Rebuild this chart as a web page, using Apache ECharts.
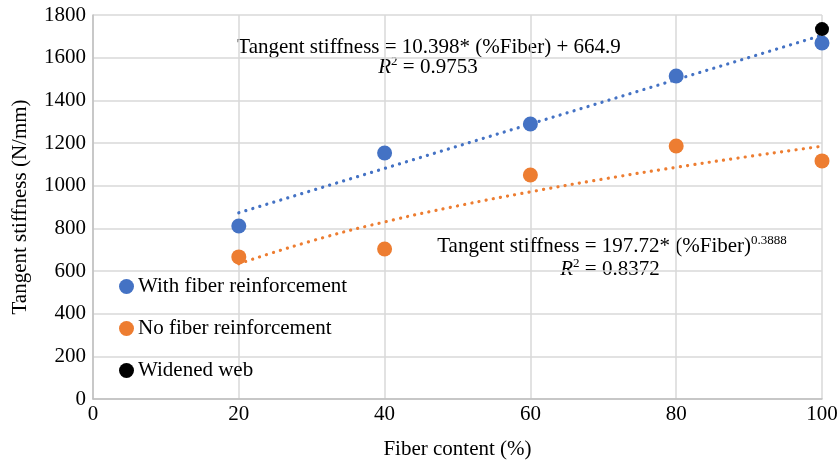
<!DOCTYPE html>
<html>
<head>
<meta charset="utf-8">
<script src="https://cdn.jsdelivr.net/npm/echarts@6/dist/echarts.min.js"></script>
<style>
  html, body { margin: 0; padding: 0; background: #fff; }
  #chart { width: 837px; height: 461px; }
</style>
</head>
<body>
<div id="chart"></div>
<script>
// Data
const fiberPct = [20, 40, 60, 80, 100];
const withFiber = [811, 1153, 1289, 1514, 1669];
const noFiber = [666, 703, 1050, 1186, 1116];
const widenedWeb = [[100, 1734]];
// trend lines as drawn in the picture
const linTrendX = [20, 100];
const linTrendY = [873, 1705];
const powTrendX = [20, 30, 40, 50, 60, 70, 80, 90, 100];
const powTrendY = [634, 741, 830, 905, 971, 1031, 1086, 1137, 1185];

const FONT = '"Liberation Serif", "Times New Roman", serif';
const FS = 21;
const BLUE = '#4472c4';
const ORANGE = '#ed7d31';

const pairs = (xs, ys) => xs.map((x, i) => [x, ys[i]]);

const chart = echarts.init(document.getElementById('chart'));

const dotted = color => ({ color: color, width: 3.2, type: [0.1, 7.2], cap: 'round' });

// R² line and superscripted equation use rich text
const richParts = {
    i: { fontFamily: FONT, fontSize: FS, fontStyle: 'italic', fill: '#000', lineHeight: 24 },
    s: { fontFamily: FONT, fontSize: 13, fill: '#000', verticalAlign: 'top', lineHeight: 24 },
    n: { fontFamily: FONT, fontSize: FS, fill: '#000', lineHeight: 24 }
};

chart.setOption({
    animation: false,
    textStyle: { fontFamily: FONT },
    grid: { left: 93, right: 15, top: 15, bottom: 62, containLabel: false, outerBoundsMode: 'none' },
    legend: {
        orient: 'vertical',
        left: 114,
        top: 271,
        itemGap: 21,
        itemWidth: 15,
        itemHeight: 15,
        data: [
            { name: 'With fiber reinforcement', icon: 'circle' },
            { name: 'No fiber reinforcement', icon: 'circle' },
            { name: 'Widened web', icon: 'circle' }
        ],
        textStyle: { fontFamily: FONT, fontSize: FS, color: '#000', padding: [0, 0, 0, -1] }
    },
    xAxis: {
        type: 'value', min: 0, max: 100, interval: 20,
        name: 'Fiber content (%)', nameLocation: 'middle', nameGap: 40,
        nameTextStyle: { fontFamily: FONT, fontSize: FS, color: '#000' },
        axisLine: { lineStyle: { color: '#bfbfbf', width: 1.5 } },
        axisTick: { show: false },
        axisLabel: { fontFamily: FONT, fontSize: FS, color: '#000', margin: 5 },
        splitLine: { lineStyle: { color: '#d9d9d9', width: 1.5 } }
    },
    yAxis: {
        type: 'value', min: 0, max: 1800, interval: 200,
        name: 'Tangent stiffness (N/mm)', nameLocation: 'middle', nameGap: 62,
        nameTextStyle: { fontFamily: FONT, fontSize: FS, color: '#000' },
        axisLine: { show: true, lineStyle: { color: '#bfbfbf', width: 1.5 } },
        axisTick: { show: false },
        axisLabel: { fontFamily: FONT, fontSize: FS, color: '#000', margin: 7, formatter: v => String(v) },
        splitLine: { lineStyle: { color: '#d9d9d9', width: 1.5 } }
    },
    series: [
        {
            name: 'lin trend', type: 'line', data: pairs(linTrendX, linTrendY),
            symbol: 'none', lineStyle: dotted(BLUE), silent: true, z: 1
        },
        {
            name: 'pow trend', type: 'line', data: pairs(powTrendX, powTrendY),
            symbol: 'none', smooth: true, lineStyle: dotted(ORANGE), silent: true, z: 1
        },
        {
            name: 'With fiber reinforcement', type: 'scatter', data: pairs(fiberPct, withFiber),
            symbolSize: 15, itemStyle: { color: BLUE, opacity: 1 }, z: 3
        },
        {
            name: 'No fiber reinforcement', type: 'scatter', data: pairs(fiberPct, noFiber),
            symbolSize: 15, itemStyle: { color: ORANGE, opacity: 1 }, z: 3
        },
        {
            name: 'Widened web', type: 'scatter', data: widenedWeb,
            symbolSize: 14, itemStyle: { color: '#000', opacity: 1 }, z: 4
        }
    ],
    graphic: [
        {
            type: 'text', x: 429, y: 47,
            style: {
                text: 'Tangent stiffness = 10.398* (%Fiber) + 664.9',
                font: FS + 'px ' + FONT, fill: '#000', align: 'center', verticalAlign: 'middle'
            }
        },
        {
            type: 'text', x: 428, y: 67,
            style: { text: '{i|R}{s|2}{n| = 0.9753}', align: 'center', verticalAlign: 'middle', rich: richParts }
        },
        {
            type: 'text', x: 612, y: 246,
            style: {
                text: '{n|Tangent stiffness = 197.72* (%Fiber)}{s|0.3888}',
                align: 'center', verticalAlign: 'middle', rich: richParts
            }
        },
        {
            type: 'text', x: 610, y: 269,
            style: { text: '{i|R}{s|2}{n| = 0.8372}', align: 'center', verticalAlign: 'middle', rich: richParts }
        }
    ]
});
</script>
</body>
</html>
